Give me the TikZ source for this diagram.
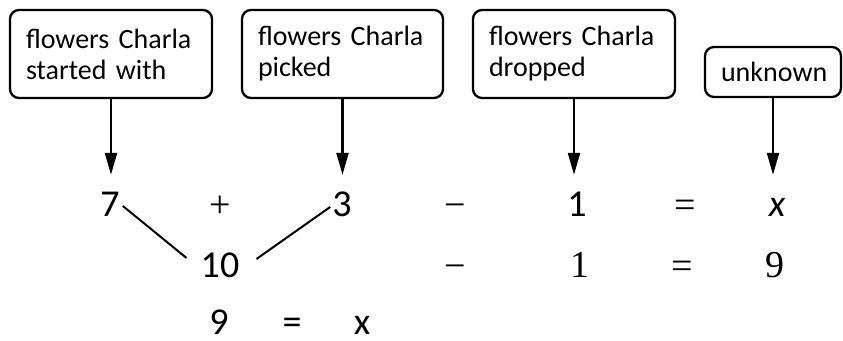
\documentclass[tikz,border=0pt]{standalone}
\usepackage[no-math]{fontspec}
\setmainfont{Carlito}
\newfontfamily\numserif{Liberation Serif}
\usetikzlibrary{arrows.meta,calc}
\begin{document}
\begin{tikzpicture}[x=1pt,y=-1pt,
  lbl/.style={draw, line width=2.3pt, rounded corners=9pt, align=left,
    font=\fontsize{28}{31}\selectfont, inner xsep=16pt, inner ysep=0pt},
  num/.style={inner sep=0pt, font=\fontsize{38}{38}\selectfont, anchor=base,
    text height=25pt, text depth=0pt},
  op/.style={num, font=\numserif\fontsize{38}{38}\selectfont},
  arr/.style={line width=2.3pt, -{Triangle[length=22pt,width=12pt]}, shorten >=16pt},
  linkline/.style={line width=2pt}]
\useasboundingbox (0,0) rectangle (843,340);
% label boxes
\node[lbl, text width=170pt, minimum height=88pt] (b1) at (111,54) {flowers Charla\\started with};
\node[lbl, text width=169pt, minimum height=88pt] (b2) at (342.5,54) {flowers Charla\\picked};
\node[lbl, text width=170pt, minimum height=88pt] (b3) at (574,54) {flowers Charla\\dropped};
\node[lbl, text width=104pt, minimum height=50pt] (b4) at (773,72) {unknown};
% row 1
\node[num] (n7) at (110,216) {7};
\node[op] (p1) at (220,217) {+};
\node[num] (n3) at (342,216) {3};
\node[op] (m1) at (455,217) {−};
\node[num] (n1) at (577,216) {1};
\node[op] (e1) at (685,217) {=};
\node[num] (nx) at (777,216) {\itshape x};
% row 2
\node[num] (n10) at (220,277) {10};
\node[op] (m2) at (455,278) {−};
\node[num] (s1) at (580,277) {\numserif 1};
\node[op] (e2) at (682,278) {=};
\node[num] (s9) at (775,277) {\numserif 9};
% row 3
\node[num] (r9) at (219,334) {9};
\node[num] (re) at (292,334) {=};
\node[num] (rx) at (362,334) {x};
% arrows
\draw[arr] (b1.south) -- (b1.south |- n7.north);
\draw[arr] (b2.south) -- (b2.south |- n3.north);
\draw[arr] (b3.south) -- (b3.south |- n1.north);
\draw[arr] (b4.south) -- (b4.south |- nx.north);
% joining lines
\draw[linkline] ($(n7.east)+(3,2.5)$) -- ($(n10.west)+(-14,-6.5)$);
\draw[linkline] ($(n10.east)+(17,-5.5)$) -- ($(n3.west)+(-2,3.5)$);
\end{tikzpicture}
\end{document}
